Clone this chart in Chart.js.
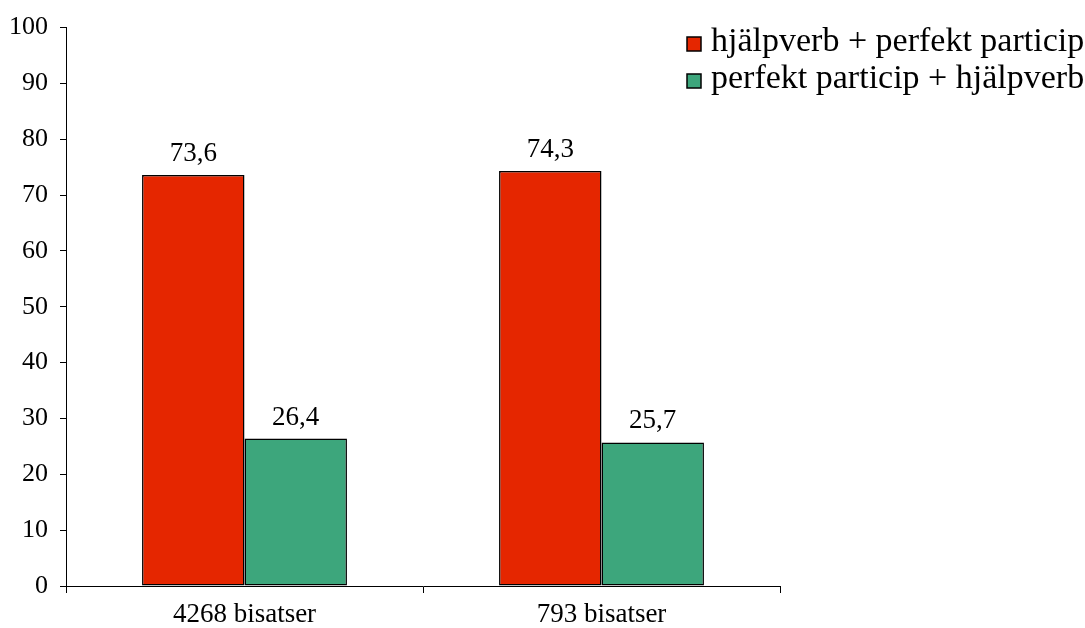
<!DOCTYPE html>
<html>
<head>
<meta charset="utf-8">
<script src="https://cdn.jsdelivr.net/npm/chart.js@4.4.1/dist/chart.umd.min.js"></script>
<style>
  html, body { margin: 0; padding: 0; background: #fff; }
  #wrap { width: 1085px; height: 628px; }
</style>
</head>
<body>
<div id="wrap"><canvas id="c" width="1085" height="628"></canvas></div>
<script>
// Share of word orders in subordinate clauses (%)
const categories = ['4268 bisatser', '793 bisatser'];
const seriesNames = ['hjälpverb + perfekt particip', 'perfekt particip + hjälpverb'];
const auxFirst = [73.6, 74.3];
const participleFirst = [26.4, 25.7];
const yTicks = [0, 10, 20, 30, 40, 50, 60, 70, 80, 90, 100];

const FONT = '"Liberation Serif", "Times New Roman", serif';
const COLORS = ['#E52600', '#3DA67C'];

// Value labels above each bar, with a decimal comma
const valueLabels = {
  id: 'valueLabels',
  afterDatasetsDraw(chart) {
    const ctx = chart.ctx;
    ctx.save();
    ctx.font = '27px ' + FONT;
    ctx.fillStyle = '#000';
    ctx.textAlign = 'center';
    ctx.textBaseline = 'alphabetic';
    chart.data.datasets.forEach((ds, i) => {
      chart.getDatasetMeta(i).data.forEach((bar, j) => {
        const txt = ds.data[j].toFixed(1).replace('.', ',');
        ctx.fillText(txt, bar.x, bar.y - 14);
      });
    });
    ctx.restore();
  }
};

// Legend in the top right corner, drawn from the dataset names
const cornerLegend = {
  id: 'cornerLegend',
  afterDraw(chart) {
    const ctx = chart.ctx;
    ctx.save();
    ctx.font = '34px ' + FONT;
    ctx.textBaseline = 'alphabetic';
    chart.data.datasets.forEach((ds, i) => {
      const cy = 44 + i * 37;
      ctx.fillStyle = ds.backgroundColor;
      ctx.fillRect(687, cy - 7, 14, 14);
      ctx.strokeStyle = '#000';
      ctx.lineWidth = 1.5;
      ctx.strokeRect(687, cy - 7, 14, 14);
      ctx.fillStyle = '#000';
      ctx.textAlign = 'left';
      ctx.fillText(ds.label, 711, cy + 7);
    });
    ctx.restore();
  }
};

new Chart(document.getElementById('c'), {
  type: 'bar',
  data: {
    labels: categories,
    datasets: [
      { label: seriesNames[0], data: auxFirst, backgroundColor: COLORS[0], borderColor: '#000', borderWidth: 1.5, borderSkipped: false },
      { label: seriesNames[1], data: participleFirst, backgroundColor: COLORS[1], borderColor: '#000', borderWidth: 1.5, borderSkipped: false }
    ]
  },
  options: {
    responsive: false,
    animation: false,
    devicePixelRatio: 1,
    layout: { padding: { top: 27, right: 305, left: 0, bottom: 0 } },
    plugins: { legend: { display: false }, tooltip: { enabled: false } },
    datasets: { bar: { categoryPercentage: 0.574, barPercentage: 1.0 } },
    scales: {
      x: {
        offset: true,
        grid: { offset: true, drawOnChartArea: false, drawTicks: true, tickLength: 7, color: '#000', lineWidth: 1 },
        border: { display: true, color: '#000', width: 1 },
        ticks: { color: '#000', font: { family: FONT, size: 27 }, padding: 6 },
        afterFit(s) { s.height = 42; }
      },
      y: {
        min: 0,
        max: 100,
        afterBuildTicks(s) { s.ticks = yTicks.map(v => ({ value: v })); },
        grid: { drawOnChartArea: false, drawTicks: true, tickLength: 6, color: '#000', lineWidth: 1 },
        border: { display: true, color: '#000', width: 1 },
        ticks: { color: '#000', font: { family: FONT, size: 26 }, padding: 12 },
        afterFit(s) { s.width = 66; }
      }
    }
  },
  plugins: [valueLabels, cornerLegend]
});
</script>
</body>
</html>
